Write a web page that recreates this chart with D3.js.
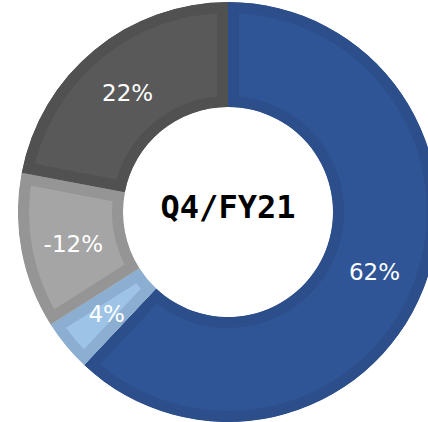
<!DOCTYPE html>
<html>
<head>
<meta charset="utf-8">
<script src="https://cdn.jsdelivr.net/npm/d3@7"></script>
<style>
  html, body { margin: 0; padding: 0; background: #fff; }
</style>
</head>
<body>
<div id="vis"></div>
<script>
"use strict";
var segments = ['A', 'B', 'C', 'D'];
var values = [62, 4, 12, 22];
var labels = ['62%', '4%', '-12%', '22%'];
var fills = ['#2f5597', '#9dc3e6', '#a5a5a5', '#595959'];
var borders = ['#2c4e8a', '#8caed0', '#959595', '#515151'];
var title = 'Q4/FY21';

var width = 428, height = 422;
var cx = 228, cy = 212, outer = 210, inner = 105, border = 11;

var svg = d3.select('#vis')
    .append('svg')
    .attr('width', width)
    .attr('height', height);

var pie = d3.pie().sort(null).value(function (d) { return d; });
var arcs = pie(values);
var arc = d3.arc().innerRadius(inner).outerRadius(outer);

var g = svg.append('g')
    .attr('transform', 'translate(' + cx + ',' + cy + ')');

// each slice gets a clipped double-width stroke so the border sits inside it
var defs = svg.append('defs');
defs.selectAll('clipPath')
    .data(arcs)
    .enter().append('clipPath')
    .attr('id', function (d, i) { return 'clip' + i; })
    .append('path')
    .attr('d', arc);

g.selectAll('.slice')
    .data(arcs)
    .enter().append('path')
    .classed('slice', true)
    .attr('d', arc)
    .attr('fill', function (d, i) { return fills[i]; })
    .attr('stroke', function (d, i) { return borders[i]; })
    .attr('stroke-width', border * 2)
    .attr('stroke-linejoin', 'miter')
    .attr('clip-path', function (d, i) { return 'url(#clip' + i + ')'; });

g.selectAll('.lbl')
    .data(arcs)
    .enter().append('text')
    .classed('lbl', true)
    .attr('transform', function (d) {
        var c = arc.centroid(d);
        return 'translate(' + c[0] + ',' + (c[1] + 2) + ')';
    })
    .attr('text-anchor', 'middle')
    .attr('dominant-baseline', 'central')
    .attr('fill', 'white')
    .style('font-family', 'DejaVu Sans')
    .style('font-size', '23px')
    .text(function (d, i) { return labels[i]; });

g.append('text')
    .attr('x', 0)
    .attr('y', 6)
    .attr('text-anchor', 'middle')
    .attr('fill', 'black')
    .style('font-family', 'DejaVu Sans Mono')
    .style('font-weight', 'bold')
    .style('font-size', '32px')
    .text(title);
</script>
</body>
</html>
